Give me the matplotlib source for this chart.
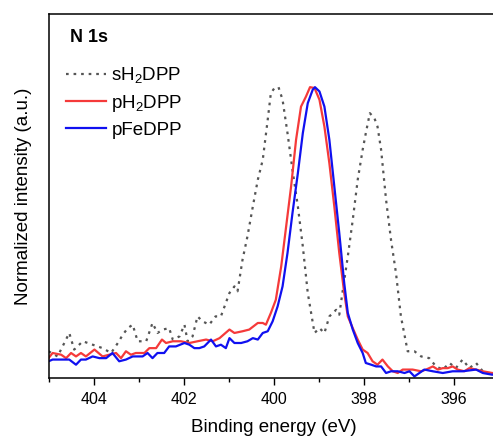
import matplotlib
matplotlib.use("Agg")
import matplotlib.pyplot as plt
from matplotlib.ticker import MultipleLocator

plt.rcParams["font.family"] = ["Liberation Sans", "DejaVu Sans"]
plt.rcParams["mathtext.default"] = "regular"

# sH2DPP (dotted grey)
s_be = [405.01, 404.81, 404.66, 404.55, 404.44, 404.25, 404.03, 403.81, 403.62, 403.47,
        403.36, 403.25, 403.14, 403.03, 402.84, 402.70, 402.59, 402.47, 402.33, 402.25,
        402.10, 401.99, 401.92, 401.81, 401.70, 401.59, 401.44, 401.30, 401.18, 400.99,
        400.88, 400.81, 400.70, 400.59, 400.47, 400.36, 400.25, 400.14, 400.07, 399.99,
        399.90, 399.81, 399.70, 399.59, 399.47, 399.36, 399.25, 399.10, 398.99, 398.88,
        398.77, 398.62, 398.55, 398.47, 398.36, 398.25, 398.14, 398.03, 397.96, 397.87,
        397.77, 397.70, 397.62, 397.51, 397.40, 397.29, 397.18, 397.03, 396.88, 396.73,
        396.55, 396.40, 396.25, 396.10, 395.96, 395.81, 395.66, 395.51, 395.36, 395.15,
        395.00]
s_int = [0.076, 0.058, 0.105, 0.140, 0.082, 0.111, 0.099, 0.087, 0.070, 0.105,
         0.134, 0.157, 0.169, 0.111, 0.111, 0.175, 0.140, 0.152, 0.157, 0.117,
         0.128, 0.169, 0.111, 0.128, 0.198, 0.181, 0.169, 0.198, 0.198, 0.280,
         0.303, 0.286, 0.396, 0.478, 0.583, 0.676, 0.746, 0.886, 0.979, 0.997,
         1.000, 0.956, 0.839, 0.711, 0.583, 0.443, 0.280, 0.140, 0.157, 0.140,
         0.198, 0.221, 0.204, 0.291, 0.408, 0.536, 0.676, 0.781, 0.839, 0.909,
         0.892, 0.862, 0.781, 0.606, 0.466, 0.350, 0.198, 0.076, 0.076, 0.058,
         0.052, 0.023, 0.012, 0.035, 0.017, 0.047, 0.017, 0.035, 0.006, -0.006,
         0.000]

# pH2DPP (red)
p_be = [405.01, 404.92, 404.73, 404.62, 404.51, 404.40, 404.29, 404.18, 403.99, 403.81,
        403.66, 403.51, 403.40, 403.29, 403.18, 403.07, 402.88, 402.77, 402.62, 402.49,
        402.40, 402.25, 402.07, 401.88, 401.70, 401.51, 401.36, 401.21, 400.99, 400.88,
        400.70, 400.55, 400.36, 400.25, 400.18, 400.07, 399.96, 399.84, 399.73, 399.62,
        399.51, 399.40, 399.29, 399.20, 399.10, 398.99, 398.88, 398.77, 398.66, 398.55,
        398.44, 398.36, 398.25, 398.14, 398.03, 397.92, 397.81, 397.70, 397.59, 397.47,
        397.36, 397.25, 397.14, 396.92, 396.73, 396.62, 396.47, 396.36, 396.25, 396.14,
        396.03, 395.92, 395.77, 395.66, 395.51, 395.36, 395.15, 395.00]
p_int = [0.052, 0.070, 0.064, 0.052, 0.070, 0.058, 0.070, 0.058, 0.082, 0.058,
         0.064, 0.070, 0.052, 0.076, 0.064, 0.070, 0.070, 0.087, 0.087, 0.117,
         0.105, 0.111, 0.111, 0.105, 0.111, 0.117, 0.111, 0.122, 0.152, 0.140,
         0.146, 0.152, 0.175, 0.175, 0.169, 0.210, 0.256, 0.373, 0.513, 0.653,
         0.816, 0.932, 0.967, 1.000, 0.997, 0.956, 0.862, 0.734, 0.583, 0.420,
         0.280, 0.198, 0.157, 0.117, 0.082, 0.070, 0.041, 0.029, 0.047, 0.023,
         0.006, 0.000, 0.012, 0.012, 0.006, 0.012, 0.023, 0.012, 0.017, 0.017,
         0.023, 0.012, 0.006, 0.017, 0.012, 0.006, 0.000, 0.000]

# pFeDPP (blue)
f_be = [405.01, 404.92, 404.73, 404.55, 404.40, 404.29, 404.18, 404.03, 403.88, 403.73,
        403.59, 403.44, 403.29, 403.14, 402.92, 402.81, 402.70, 402.59, 402.44, 402.33,
        402.18, 401.99, 401.88, 401.77, 401.66, 401.55, 401.40, 401.29, 401.18, 401.07,
        400.99, 400.88, 400.73, 400.59, 400.47, 400.36, 400.25, 400.14, 400.03, 399.92,
        399.81, 399.70, 399.59, 399.47, 399.36, 399.25, 399.14, 399.09, 398.99, 398.88,
        398.77, 398.66, 398.55, 398.44, 398.36, 398.25, 398.14, 398.03, 397.96, 397.84,
        397.73, 397.62, 397.51, 397.40, 397.25, 397.10, 396.99, 396.88, 396.77, 396.66,
        396.47, 396.25, 396.03, 395.81, 395.51, 395.36, 395.15, 395.00]
f_int = [0.041, 0.047, 0.047, 0.047, 0.029, 0.047, 0.047, 0.058, 0.052, 0.052,
         0.070, 0.041, 0.047, 0.058, 0.058, 0.070, 0.052, 0.070, 0.070, 0.093,
         0.093, 0.105, 0.099, 0.087, 0.087, 0.093, 0.117, 0.093, 0.099, 0.087,
         0.122, 0.105, 0.105, 0.111, 0.122, 0.117, 0.140, 0.146, 0.181, 0.233,
         0.303, 0.420, 0.559, 0.699, 0.839, 0.944, 0.991, 1.000, 0.985, 0.932,
         0.816, 0.653, 0.490, 0.315, 0.210, 0.152, 0.105, 0.070, 0.035, 0.029,
         0.023, 0.023, 0.000, 0.006, 0.006, 0.000, 0.006, -0.012, 0.000, 0.012,
         0.006, 0.000, 0.006, 0.006, 0.012, 0.000, -0.006, 0.000]

fig = plt.figure(figsize=(4.93, 4.37), dpi=100)
ax = fig.add_axes([0.0994, 0.135, 0.9128, 0.833])

ax.plot(s_be, s_int, color="#555555", lw=1.6, ls=(0, (1.2, 2.2)), label="sH$_2$DPP")
ax.plot(p_be, p_int, color="#f53a3a", lw=1.6, label="pH$_2$DPP")
ax.plot(f_be, f_int, color="#1010f0", lw=1.6, label="pFeDPP")

ax.set_xlim(405, 395)
ax.set_ylim(-0.0175, 1.256)
ax.xaxis.set_major_locator(MultipleLocator(2))
ax.xaxis.set_minor_locator(MultipleLocator(1))
ax.tick_params(axis="x", which="major", direction="out", length=5, width=1,
               labelsize=11.5, pad=5)
ax.tick_params(axis="x", which="minor", direction="out", length=3, width=1)
ax.set_yticks([])
for sp in ax.spines.values():
    sp.set_linewidth(1.1)

ax.set_xlabel("Binding energy (eV)", fontsize=13.5, labelpad=9)
ax.set_ylabel("Normalized intensity (a.u.)", fontsize=13.5, labelpad=12)

ax.text(0.047, 0.935, "N 1s", transform=ax.transAxes, fontsize=13,
        fontweight="bold", ha="left", va="center")

ax.legend(loc="upper left", bbox_to_anchor=(0.022, 0.88), frameon=False,
          fontsize=13.5, handlelength=2.1, handletextpad=0.3, labelspacing=0.42,
          borderaxespad=0.0)

fig.savefig("out.png", dpi=100)
